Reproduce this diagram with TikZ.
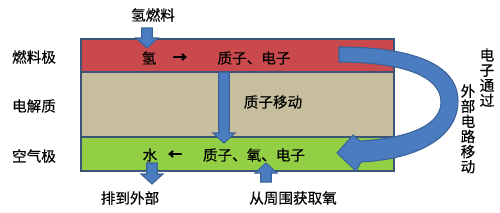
\documentclass[tikz,border=0pt]{standalone}
\usepackage{fontspec}
\setmainfont{Noto Sans CJK SC}[FakeBold=0.35]
\usepackage{xcolor}
\usepackage{tikz}
\usetikzlibrary{calc}

\definecolor{fuelred}{HTML}{C9494C}
\definecolor{midtan}{HTML}{C6BE9C}
\definecolor{airgreen}{HTML}{92CF45}
\definecolor{bandline}{HTML}{3B5478}
\definecolor{flowblue}{HTML}{4A7CBF}
\definecolor{flowline}{HTML}{3A639A}

% block arrow between two named points (vertical only)
\newcommand\flowarrow[2]{%
  \path[flow] let \p1=(#1), \p2=(#2), \n1={sign(\y2-\y1)} in
    ({\x1-1.05mm},\y1) -- ({\x1+1.05mm},\y1)
    -- ({\x1+1.05mm},{\y2-\n1*2mm}) -- ({\x1+2.2mm},{\y2-\n1*2mm})
    -- (\x1,\y2) -- ({\x1-2.2mm},{\y2-\n1*2mm})
    -- ({\x1-1.05mm},{\y2-\n1*2mm}) -- cycle;}

\begin{document}
\begin{tikzpicture}[x=0.2mm, y=-0.2mm,
  font=\fontsize{8.3}{8.3}\selectfont,
  band/.style={draw=bandline, line width=0.9pt, outer sep=0pt,
               minimum width=62.6mm, anchor=north west},
  lbl/.style={inner sep=0pt},
  vlbl/.style={inner sep=0pt, align=center,
               font=\fontsize{8.3}{8.6}\selectfont},
  flow/.style={fill=flowblue, draw=flowline, line width=0.6pt,
               line join=miter}]

\useasboundingbox (0,0) rectangle (500,212);

%% ---- three layers ----
\node[band, fill=fuelred, minimum height=6.6mm] (anode) at (81,39) {};
\node[band, fill=midtan, minimum height=13mm] (electro) at (81,72) {};
\node[band, fill=airgreen, minimum height=6.8mm] (cathode) at (81,137) {};

%% ---- layer names ----
\node[lbl] (anodename) at (34,57) {燃料极};
\node[lbl] (electroname) at (34,106) {电解质};
\node[lbl] (cathodename) at (34,156) {空气极};

%% ---- texts inside ----
\node[lbl] (hydro) at (149,58) {氢};
\node[lbl] (toright) at (180,58) {\textbf{→}};
\node[lbl] (split) at (254,58) {质子、电子};
\node[lbl] (protmove) at (273,102) {质子移动};
\node[lbl] (water) at (150,155) {水};
\node[lbl] (toleft) at (175,155) {\textbf{←}};
\node[lbl] (join) at (254,155) {质子、氧、电子};

%% ---- outside labels ----
\node[lbl] (fuelin) at (153,15) {氢燃料};
\node[lbl] (drain) at (130,198) {排到外部};
\node[lbl] (oxyin) at (293,198) {从周围获取氧};
\node[vlbl, anchor=north] (circA) at (487,48) {电\\子\\通\\过};
\node[vlbl, anchor=north] (circB) at (468,84) {外\\部\\电\\路\\移\\动};

%% ---- straight flows ----
\coordinate (fueltail) at (147,28);
\coordinate (fueltip) at (147,48);
\coordinate (prottail) at (224,72);
\coordinate (prottip) at (224,143);
\coordinate (draintail) at (152,163);
\coordinate (draintip) at (152,184);
\coordinate (oxytail) at (266,182);
\coordinate (oxytip) at (266,163);
\flowarrow{fueltail}{fueltip}
\flowarrow{prottail}{prottip}
\flowarrow{draintail}{draintip}
\flowarrow{oxytail}{oxytip}

%% ---- electrons round the outside ----
\path[flow] (339,47) .. controls (412,47) and (458,64) .. (458,101)
  .. controls (458,136) and (420,159) .. (361,162)
  -- (356,171) -- (337,153) -- (353,135) -- (360,141)
  .. controls (412,138) and (441,124) .. (441,102)
  .. controls (441,76) and (402,62) .. (339,62) -- cycle;
\end{tikzpicture}
\end{document}
